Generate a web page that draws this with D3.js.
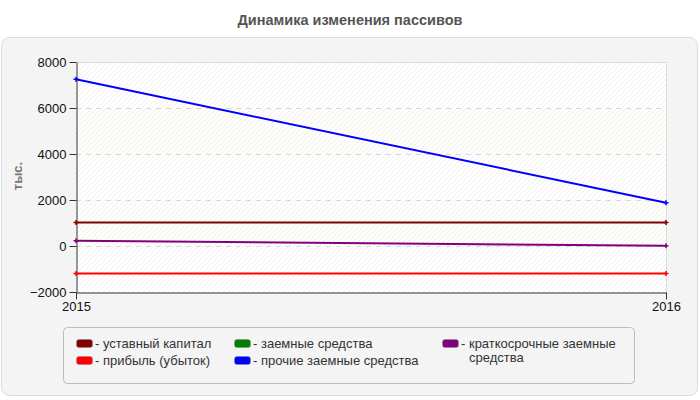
<!DOCTYPE html>
<html>
<head>
<meta charset="utf-8">
<script src="https://cdn.jsdelivr.net/npm/d3@7"></script>
<style>
  body { margin: 0; background: #fff; }
  svg { display: block; font-family: "Liberation Sans", Arial, sans-serif; }
</style>
</head>
<body>
<svg width="700" height="400"></svg>
<script>
var years = ["2015", "2016"];
var ustavny = [1020, 1020];
var zaemnye = [null, null];
var prochie = [7250, 1880];
var kratko = [230, 10];
var pribyl = [-1200, -1200];
var yTicks = [-2000, 0, 2000, 4000, 6000, 8000];

var series = [
  {name: "уставный капитал", values: ustavny, color: "#800000"},
  {name: "прибыль (убыток)", values: pribyl, color: "#ff0000"},
  {name: "заемные средства", values: zaemnye, color: "#008000"},
  {name: "прочие заемные средства", values: prochie, color: "#0000ff"},
  {name: "краткосрочные заемные|средства", values: kratko, color: "#800080"}
];

var svg = d3.select("svg");

var margin_left = 76, margin_right = 34, margin_top = 62, margin_bottom = 108;
var width = 700, height = 400;

// outer panel
svg.append("rect")
  .attr("x", 1.5).attr("y", 37.5)
  .attr("width", 696).attr("height", 358)
  .attr("rx", 8)
  .attr("fill", "#f4f4f4")
  .attr("stroke", "#dcdcdc");

svg.append("text")
  .attr("x", 350).attr("y", 25)
  .attr("text-anchor", "middle")
  .attr("font-size", 14.5).attr("font-weight", "bold")
  .attr("fill", "#555")
  .text("Динамика изменения пассивов");

var xScale = d3.scalePoint().domain(years).range([margin_left, width - margin_right]);
var yScale = d3.scaleLinear().domain([-2000, 8000]).range([height - margin_bottom, margin_top]);

// hatch pattern
var defs = svg.append("defs");
var pat = defs.append("pattern")
  .attr("id", "hatch")
  .attr("patternUnits", "userSpaceOnUse")
  .attr("width", 5).attr("height", 5);
pat.append("path")
  .attr("d", "M-1,6 L6,-1 M-1,1 L1,-1 M4,6 L6,4")
  .attr("stroke", "#efefef")
  .attr("stroke-width", 1);

// bands
for (var i = 0; i < yTicks.length - 1; i++) {
  svg.append("rect")
    .attr("x", margin_left)
    .attr("y", yScale(yTicks[i + 1]))
    .attr("width", xScale.range()[1] - margin_left)
    .attr("height", yScale(yTicks[i]) - yScale(yTicks[i + 1]))
    .attr("fill", i % 2 == 0 ? "#ffffff" : "#fefefa");
}
svg.append("rect")
  .attr("x", margin_left).attr("y", margin_top)
  .attr("width", xScale.range()[1] - margin_left)
  .attr("height", yScale(-2000) - margin_top)
  .attr("fill", "url(#hatch)");

// grid
svg.append("g").selectAll("line")
  .data([0, 2000, 4000, 6000])
  .join("line")
  .attr("x1", margin_left).attr("x2", xScale.range()[1])
  .attr("y1", d => Math.round(yScale(d)) + 0.5)
  .attr("y2", d => Math.round(yScale(d)) + 0.5)
  .attr("stroke", "#d8d8d8")
  .attr("stroke-dasharray", "5,5");

// top & right border
svg.append("path")
  .attr("d", "M" + margin_left + "," + (margin_top + 0.5) + "H" + (xScale.range()[1] + 0.5) + "V" + yScale(-2000))
  .attr("fill", "none")
  .attr("stroke", "#dcdcdc");

// axes
var yAxis = d3.axisLeft(yScale).tickValues(yTicks).tickSize(7).tickSizeOuter(0).tickFormat(d3.format("d"));
var gy = svg.append("g")
  .attr("transform", "translate(" + (margin_left + 0.5) + ",0)")
  .call(yAxis);
gy.selectAll("text").attr("font-size", 13).attr("fill", "#111").attr("font-family", "Liberation Sans, Arial, sans-serif");
gy.selectAll("line, path").attr("stroke", "#333");

var xAxis = d3.axisBottom(xScale).tickSize(7).tickSizeOuter(0);
var gx = svg.append("g")
  .attr("transform", "translate(0," + (Math.round(yScale(-2000)) + 0.5) + ")")
  .call(xAxis);
gx.selectAll("text").attr("font-size", 13).attr("fill", "#111").attr("y", 9).attr("font-family", "Liberation Sans, Arial, sans-serif");
gx.selectAll("line, path").attr("stroke", "#333");

svg.append("text")
  .attr("transform", "translate(22," + 176 + ") rotate(-90)")
  .attr("text-anchor", "middle")
  .attr("font-size", 13).attr("font-weight", "bold")
  .attr("fill", "#777")
  .text("тыс.");

// lines
var line = d3.line()
  .defined(d => d != null)
  .x((d, i) => xScale(years[i]))
  .y(d => yScale(d));

series.forEach(function(s) {
  svg.append("path")
    .attr("d", line(s.values))
    .attr("fill", "none")
    .attr("stroke", s.color)
    .attr("stroke-width", 2);
  svg.append("g").selectAll("path")
    .data(s.values.map((v, i) => [i, v]).filter(d => d[1] != null))
    .join("path")
    .attr("d", d => {
      var x = xScale(years[d[0]]), y = yScale(d[1]);
      return "M" + (x - 2.5) + "," + y + "H" + (x + 2.5) + "M" + x + "," + (y - 2.5) + "V" + (y + 2.5);
    })
    .attr("stroke", s.color)
    .attr("stroke-width", 1.5);
});

// legend
svg.append("rect")
  .attr("x", 63.5).attr("y", 327.5)
  .attr("width", 571).attr("height", 56)
  .attr("rx", 4)
  .attr("fill", "#f4f4f4")
  .attr("stroke", "#bdbdbd");

var legendPos = [[76, 344], [76, 361], [234, 344], [234, 361], [442, 344]];
series.forEach(function(s, i) {
  var p = legendPos[i];
  svg.append("rect")
    .attr("x", p[0] + 0.5).attr("y", p[1] - 4.5)
    .attr("width", 16).attr("height", 8)
    .attr("rx", 2.5)
    .attr("fill", s.color)
    .attr("stroke", "#888").attr("stroke-width", 0.5);
  var parts = s.name.split("|");
  var t = svg.append("text")
    .attr("x", p[0] + 19).attr("y", p[1] + 4)
    .attr("font-size", 13).attr("fill", "#333");
  t.append("tspan").text("- " + parts[0]);
  if (parts.length > 1) {
    t.append("tspan").attr("x", p[0] + 27).attr("dy", 14).text(parts[1]);
  }
});
</script>
</body>
</html>
